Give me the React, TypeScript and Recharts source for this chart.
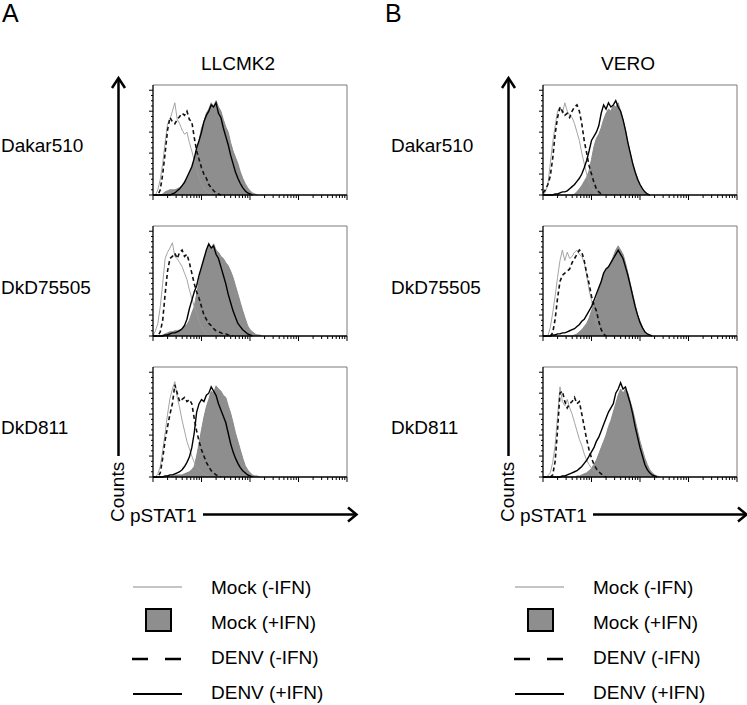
import { ComposedChart, Area, Line, XAxis, YAxis, ReferenceLine } from "recharts";

// bin centres, in decades of pSTAT1 intensity
const BINS = [
  0, 0.05, 0.1, 0.15, 0.2, 0.25, 0.3, 0.35, 0.4, 0.45, 0.5, 0.55, 0.6, 0.65, 0.7, 0.75, 0.8,
  0.85, 0.9, 0.95, 1, 1.05, 1.1, 1.15, 1.2, 1.25, 1.3, 1.35, 1.4, 1.45, 1.5, 1.55, 1.6, 1.65,
  1.7, 1.75, 1.8, 1.85, 1.9, 1.95, 2, 2.05, 2.1, 2.15, 2.2, 2.25, 2.3, 2.35, 2.4, 2.45, 2.5,
];

const CELLS = ["LLCMK2", "VERO"];
const STRAINS = ["Dakar510", "DkD75505", "DkD811"];
const LEGEND = ["Mock (-IFN)", "Mock (+IFN)", "DENV (-IFN)", "DENV (+IFN)"];

const DECADES = [0, 1, 2, 3, 4];
const MINOR = [0.301, 0.477, 0.602, 0.699, 0.778, 0.845, 0.903, 0.954];
const Y_TICKS = [0, 5, 10, 15, 20, 25, 30, 35, 40, 45, 50, 55, 60, 65, 70, 75, 80, 85, 90, 95, 100];

// LLCMK2 - Dakar510
const LLC_DAK_MOCK = [0, 0, 5, 15, 30, 50, 68, 72, 80, 88, 72, 68, 62, 58, 60, 50, 42, 33, 25, 17, 11, 7, 4, 2, 1, 0];
const LLC_DAK_MOCK_IFN = [0, 0, 0, 0, 1, 3, 4, 5, 5, 5, 6, 7, 9, 13, 17, 20, 26, 33, 42, 52, 64, 70, 78, 82, 88, 85, 90, 84, 80, 72, 65, 60, 50, 42, 36, 30, 22, 16, 11, 7, 4, 2, 1, 0];
const LLC_DAK_DENV = [0, 0, 0, 5, 20, 40, 62, 74, 70, 68, 72, 75, 78, 76, 80, 72, 70, 55, 42, 34, 26, 20, 16, 10, 7, 4, 2, 1, 0];
const LLC_DAK_DENV_IFN = [0, 0, 0, 0, 0, 0, 0, 0, 1, 2, 4, 6, 9, 12, 17, 22, 27, 35, 45, 52, 60, 70, 76, 80, 86, 84, 88, 78, 74, 64, 56, 48, 38, 30, 22, 16, 11, 7, 4, 2, 1, 0];

// LLCMK2 - DkD75505
const LLC_75_MOCK = [0, 5, 12, 28, 50, 74, 80, 84, 89, 76, 74, 70, 66, 60, 54, 44, 36, 28, 22, 14, 9, 5, 2, 1, 0];
const LLC_75_MOCK_IFN = [0, 0, 0, 0, 1, 2, 3, 4, 4, 5, 5, 6, 7, 9, 11, 15, 22, 28, 40, 52, 64, 72, 80, 86, 84, 88, 82, 80, 76, 74, 70, 67, 62, 56, 48, 40, 32, 24, 17, 10, 6, 4, 2, 1, 1, 0];
const LLC_75_DENV = [0, 0, 0, 4, 15, 40, 62, 74, 76, 79, 74, 80, 82, 76, 78, 70, 60, 50, 42, 36, 28, 20, 16, 12, 10, 7, 5, 4, 3, 2, 2, 1, 1, 0];
const LLC_75_DENV_IFN = [0, 0, 0, 0, 0, 1, 1, 2, 3, 3, 4, 5, 7, 10, 16, 26, 34, 42, 48, 58, 66, 74, 82, 88, 84, 86, 78, 74, 66, 58, 50, 40, 32, 24, 18, 12, 9, 6, 4, 2, 1, 0];

// LLCMK2 - DkD811
const LLC_811_MOCK = [0, 0, 3, 10, 25, 42, 60, 75, 84, 91, 76, 66, 54, 44, 34, 27, 20, 14, 10, 7, 5, 3, 2, 1, 0];
const LLC_811_MOCK_IFN = [0, 0, 0, 0, 0, 0, 1, 1, 1, 2, 2, 2, 2, 3, 4, 5, 7, 10, 20, 32, 45, 57, 67, 74, 82, 80, 87, 84, 82, 78, 76, 68, 61, 52, 42, 34, 26, 18, 11, 7, 4, 2, 1, 1, 0];
const LLC_811_DENV = [0, 0, 0, 4, 18, 35, 48, 60, 70, 88, 80, 72, 74, 76, 72, 74, 70, 56, 44, 34, 26, 20, 14, 10, 6, 4, 2, 1, 0];
const LLC_811_DENV_IFN = [0, 0, 0, 0, 0, 1, 1, 2, 2, 3, 4, 5, 7, 10, 14, 19, 28, 42, 62, 70, 74, 72, 78, 80, 86, 82, 78, 70, 64, 58, 52, 42, 32, 24, 18, 13, 9, 6, 4, 2, 1, 0];

// VERO - Dakar510
const VERO_DAK_MOCK = [0, 3, 10, 30, 50, 66, 80, 84, 78, 88, 80, 76, 74, 68, 60, 52, 40, 30, 20, 13, 7, 4, 1, 0];
const VERO_DAK_MOCK_IFN = [0, 0, 0, 0, 0, 0, 0, 0, 0, 0, 0, 0, 0, 1, 3, 6, 9, 13, 17, 23, 34, 46, 54, 58, 64, 72, 78, 82, 80, 86, 84, 88, 80, 72, 62, 50, 40, 30, 22, 16, 10, 5, 3, 1, 0];
const VERO_DAK_DENV = [2, 5, 10, 18, 35, 58, 74, 84, 80, 76, 78, 74, 80, 84, 86, 80, 68, 52, 40, 28, 20, 12, 6, 3, 1, 0];
const VERO_DAK_DENV_IFN = [0, 0, 0, 0, 0, 1, 1, 2, 3, 3, 4, 6, 8, 10, 13, 16, 20, 26, 33, 42, 52, 56, 60, 66, 78, 86, 82, 88, 84, 86, 90, 84, 80, 72, 62, 50, 40, 30, 22, 15, 10, 6, 3, 1, 0];

// VERO - DkD75505
const VERO_75_MOCK = [0, 0, 0, 8, 22, 38, 56, 72, 82, 72, 80, 74, 76, 80, 82, 78, 76, 70, 58, 44, 34, 22, 12, 6, 2, 0];
const VERO_75_MOCK_IFN = [0, 0, 0, 0, 0, 0, 0, 0, 0, 0, 0, 0, 0, 1, 2, 4, 6, 9, 12, 17, 24, 30, 36, 44, 52, 58, 62, 66, 70, 76, 82, 86, 82, 78, 70, 60, 50, 40, 30, 20, 14, 8, 4, 2, 0];
const VERO_75_DENV = [0, 0, 0, 0, 3, 16, 36, 52, 58, 60, 62, 64, 70, 74, 78, 82, 80, 72, 60, 50, 38, 30, 24, 14, 6, 2, 0];
const VERO_75_DENV_IFN = [0, 0, 0, 0, 1, 1, 2, 2, 3, 3, 4, 5, 6, 7, 9, 11, 14, 16, 20, 24, 28, 34, 40, 46, 52, 60, 64, 66, 70, 74, 78, 82, 78, 74, 66, 58, 48, 38, 28, 20, 13, 8, 4, 2, 1, 0];

// VERO - DkD811
const VERO_811_MOCK = [0, 0, 1, 4, 14, 30, 58, 86, 72, 68, 74, 66, 60, 52, 44, 36, 30, 22, 16, 12, 8, 6, 4, 2, 1, 0];
const VERO_811_MOCK_IFN = [0, 0, 0, 0, 0, 0, 0, 0, 0, 0, 0, 0, 0, 0, 1, 1, 2, 3, 4, 6, 8, 12, 16, 22, 28, 34, 40, 48, 54, 62, 70, 78, 84, 80, 84, 80, 72, 64, 54, 44, 34, 26, 18, 12, 7, 4, 2, 1, 0];
const VERO_811_DENV = [0, 0, 0, 0, 2, 15, 45, 80, 82, 72, 66, 70, 72, 76, 70, 72, 60, 48, 36, 26, 18, 12, 8, 5, 3, 1, 0];
const VERO_811_DENV_IFN = [0, 0, 0, 0, 0, 0, 0, 0, 1, 1, 2, 3, 4, 5, 6, 8, 10, 13, 16, 20, 24, 28, 34, 38, 44, 50, 56, 62, 66, 70, 80, 84, 90, 84, 86, 78, 70, 60, 48, 38, 28, 20, 12, 7, 4, 2, 1, 0];

const PANELS = [
  [
    [LLC_DAK_MOCK, LLC_DAK_MOCK_IFN, LLC_DAK_DENV, LLC_DAK_DENV_IFN],
    [LLC_75_MOCK, LLC_75_MOCK_IFN, LLC_75_DENV, LLC_75_DENV_IFN],
    [LLC_811_MOCK, LLC_811_MOCK_IFN, LLC_811_DENV, LLC_811_DENV_IFN],
  ],
  [
    [VERO_DAK_MOCK, VERO_DAK_MOCK_IFN, VERO_DAK_DENV, VERO_DAK_DENV_IFN],
    [VERO_75_MOCK, VERO_75_MOCK_IFN, VERO_75_DENV, VERO_75_DENV_IFN],
    [VERO_811_MOCK, VERO_811_MOCK_IFN, VERO_811_DENV, VERO_811_DENV_IFN],
  ],
];

const X_TICKS = DECADES.concat(DECADES.slice(0, 4).flatMap((d) => MINOR.map((m) => d + m)));

const FONT = "'Liberation Sans', Arial, Helvetica, sans-serif";
const GRAY_FILL = "#8e8e8e";

function XTick(props: any) {
  const { x, y, payload } = props;
  const major = Number.isInteger(payload.value);
  return <line x1={x} x2={x} y1={y} y2={y + (major ? 5 : 3)} stroke="#000" strokeWidth={1} />;
}

function YTick(props: any) {
  const { x, y, payload } = props;
  const major = payload.value % 20 === 0;
  return <line x1={x - (major ? 4 : 2)} x2={x} y1={y} y2={y} stroke="#000" strokeWidth={1} />;
}

function Hist({ series, left, top }: { series: number[][]; left: number; top: number }) {
  const rows = BINS.map((d, i) => ({
    d,
    m0: series[0][i],
    m1: series[1][i],
    v0: series[2][i],
    v1: series[3][i],
  }));
  return (
    <div style={{ position: "absolute", left, top }}>
      <ComposedChart width={206} height={122} data={rows} margin={{ top: 4, right: 4, bottom: 0, left: 0 }}>
        <XAxis
          type="number"
          dataKey="d"
          domain={[0, 4]}
          ticks={X_TICKS}
          interval={0}
          tickSize={0}
          tickMargin={0}
          tickLine={false}
          tick={XTick}
          height={8}
          axisLine={{ stroke: "#000", strokeWidth: 1.3 }}
        />
        <YAxis
          type="number"
          domain={[0, 105]}
          ticks={Y_TICKS}
          interval={0}
          tickSize={0}
          tickMargin={0}
          tickLine={false}
          tick={YTick}
          width={8}
          axisLine={{ stroke: "#000", strokeWidth: 1.3 }}
        />
        <ReferenceLine y={105} stroke="#7a7a7a" strokeWidth={1} />
        <ReferenceLine x={4} stroke="#7a7a7a" strokeWidth={1} />
        <Area type="linear" dataKey="m1" fill={GRAY_FILL} fillOpacity={1} stroke="#8a8a8a" strokeWidth={1} isAnimationActive={false} />
        <Line type="linear" dataKey="m0" stroke="#9a9a9a" strokeWidth={0.9} dot={false} isAnimationActive={false} />
        <Line type="linear" dataKey="v0" stroke="#111" strokeWidth={1.6} strokeDasharray="4 3" dot={false} isAnimationActive={false} />
        <Line type="linear" dataKey="v1" stroke="#000" strokeWidth={1.4} dot={false} isAnimationActive={false} />
      </ComposedChart>
    </div>
  );
}

const BOX_TOPS = [85, 226, 367];
const ROW_BASELINES = [152, 294, 434];

export default function App() {
  return (
    <div style={{ position: "absolute", left: 0, top: 0, width: 747, height: 705, background: "#fff", fontFamily: FONT }}>
      <svg width={747} height={705} style={{ position: "absolute", left: 0, top: 0 }} fontFamily={FONT}>
        {CELLS.map((cell, p) => {
          const ox = p * 390;
          const lx = p * 382;
          return (
            <g key={cell}>
              <text x={2 + p * 383} y={22} fontSize={25}>{p === 0 ? "A" : "B"}</text>
              <text x={238 + ox} y={70} fontSize={19} textAnchor="middle">{cell}</text>
              {STRAINS.map((s, r) => (
                <text key={s} x={1 + ox} y={ROW_BASELINES[r]} fontSize={19}>{s}</text>
              ))}
              {/* counts arrow */}
              <line x1={118.5 + ox} x2={118.5 + ox} y1={456} y2={79} stroke="#000" strokeWidth={2.5} />
              <polyline points={`${112 + ox},88 ${118.5 + ox},78 ${125 + ox},88`} fill="none" stroke="#000" strokeWidth={2.5} />
              <text transform={`translate(${124 + ox},522) rotate(-90)`} fontSize={19}>Counts</text>
              {/* pSTAT1 arrow */}
              <text x={130 + ox} y={522} fontSize={19}>pSTAT1</text>
              <line x1={203 + ox} x2={356 + ox} y1={514.5} y2={514.5} stroke="#000" strokeWidth={2.5} />
              <polyline points={`${348 + ox},507.5 ${356.5 + ox},514.5 ${348 + ox},521.5`} fill="none" stroke="#000" strokeWidth={2.5} />
              {/* legend */}
              <line x1={133 + lx} x2={182 + lx} y1={587} y2={587} stroke="#8a8a8a" strokeWidth={1} />
              <rect x={146 + lx} y={609} width={25} height={22} fill={GRAY_FILL} stroke="#000" strokeWidth={2} />
              <line x1={132 + lx} x2={182 + lx} y1={659} y2={659} stroke="#000" strokeWidth={2.5} strokeDasharray="16 17" />
              <line x1={133 + lx} x2={182 + lx} y1={694} y2={694} stroke="#000" strokeWidth={2} />
              {LEGEND.map((t, i) => (
                <text key={t} x={211 + lx} y={594 + i * 35} fontSize={19}>{t}</text>
              ))}
            </g>
          );
        })}
      </svg>
      {PANELS.map((panel, p) =>
        panel.map((series, r) => (
          <Hist key={`${p}-${r}`} series={series} left={145 + p * 390} top={BOX_TOPS[r] - 4} />
        ))
      )}
    </div>
  );
}
